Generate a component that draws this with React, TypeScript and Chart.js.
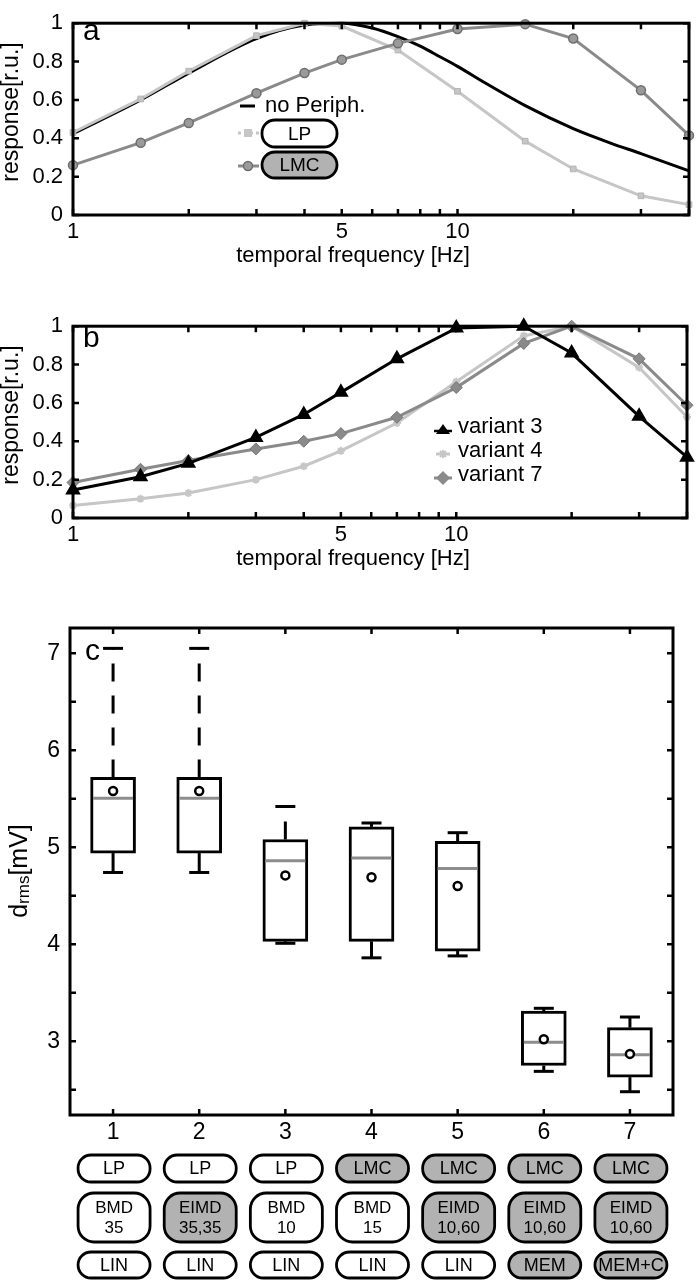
import React, { useEffect, useRef } from 'react';
import { Chart, registerables } from 'chart.js';
Chart.register(...registerables);

// ---------- data ----------
const FREQ = [1, 1.5, 2, 3, 4, 5, 7, 10, 15, 20, 30, 40];
const NO_PERIPH_FREQ = [1, 1.5, 2, 3, 4, 5, 6, 7, 8, 9, 10, 12, 15, 20, 25, 30, 40];
const NO_PERIPH = [0.424, 0.6, 0.74, 0.92, 0.99, 1.0, 0.975, 0.93, 0.88, 0.825, 0.775, 0.68, 0.57, 0.45, 0.375, 0.32, 0.23];
const LP = [0.43, 0.605, 0.75, 0.935, 1.0, 0.985, 0.86, 0.645, 0.385, 0.24, 0.1, 0.054];
const LMC = [0.26, 0.377, 0.48, 0.635, 0.74, 0.81, 0.895, 0.97, 0.995, 0.92, 0.65, 0.415];
const VARIANT3 = [0.146, 0.215, 0.285, 0.42, 0.54, 0.655, 0.83, 0.99, 1.0, 0.86, 0.53, 0.317];
const VARIANT4 = [0.065, 0.1, 0.13, 0.2, 0.27, 0.35, 0.495, 0.71, 0.95, 1.0, 0.785, 0.527];
const VARIANT7 = [0.185, 0.254, 0.3, 0.36, 0.4, 0.44, 0.525, 0.68, 0.91, 1.0, 0.83, 0.588];
const FREQ_TICKS = [1, 2, 3, 4, 5, 6, 7, 8, 9, 10, 20, 30, 40];
const FREQ_LABELED = [1, 5, 10];
const RESP_TICKS = [0, 0.2, 0.4, 0.6, 0.8, 1];

const VARIANTS = ['1', '2', '3', '4', '5', '6', '7'];
const Q1 = [4.94, 4.94, 4.03, 4.03, 3.93, 2.75, 2.63];
const Q3 = [5.72, 5.72, 5.08, 5.21, 5.06, 3.31, 3.14];
const MEDIAN = [5.505, 5.505, 4.86, 4.89, 4.78, 2.99, 2.86];
const MEAN = [5.58, 5.58, 4.71, 4.69, 4.6, 3.02, 2.87];
const WHISKER_LOW = [4.74, 4.74, 4.01, 3.86, 3.88, 2.69, 2.48];
const WHISKER_HIGH = [7.05, 7.05, 5.42, 5.25, 5.15, 3.34, 3.25];
const DRMS_TICKS = [2.5, 3, 3.5, 4, 4.5, 5, 5.5, 6, 6.5, 7];
const DRMS_LABELED = [3, 4, 5, 6, 7];
const PERIPHERY = ['LP', 'LP', 'LP', 'LMC', 'LMC', 'LMC', 'LMC'];
const PERIPHERY_ON = [false, false, false, true, true, true, true];
const DETECTOR = [['BMD', '35'], ['EIMD', '35,35'], ['BMD', '10'], ['BMD', '15'], ['EIMD', '10,60'], ['EIMD', '10,60'], ['EIMD', '10,60']];
const DETECTOR_ON = [false, true, false, false, true, true, true];
const OUTPUT = ['LIN', 'LIN', 'LIN', 'LIN', 'LIN', 'MEM', 'MEM+C'];
const OUTPUT_ON = [false, false, false, false, false, true, true];

// ---------- styles ----------
const FONT = '"Liberation Sans", Arial, Helvetica, sans-serif';
const LIGHT = '#c6c6c6';
const MID = '#8a8a8a';
const PILL_FILL = '#b2b2b2';
const W = 696;
const H_AB = 275;
const H_C = 680;

function drawPill(ctx: any, x: number, y: number, w: number, h: number, r: number, filled: boolean, lines: string[], fs: number) {
  ctx.save();
  ctx.beginPath();
  ctx.roundRect(x, y, w, h, r);
  ctx.fillStyle = filled ? PILL_FILL : '#ffffff';
  ctx.fill();
  ctx.lineWidth = 2.8;
  ctx.strokeStyle = '#000';
  ctx.stroke();
  ctx.fillStyle = '#000';
  ctx.font = `${fs}px ${FONT}`;
  ctx.textAlign = 'center';
  ctx.textBaseline = 'middle';
  const lh = fs * 1.15;
  lines.forEach((t, i) => ctx.fillText(t, x + w / 2, y + h / 2 + (i - (lines.length - 1) / 2) * lh + 1));
  ctx.restore();
}

const framePlugin = {
  id: 'frameTicks',
  afterDatasetsDraw(chart: any) {
    const { ctx, chartArea: a, scales } = chart;
    const xs = scales.x, ys = scales.y;
    const len = 6;
    ctx.save();
    ctx.strokeStyle = '#000';
    ctx.lineWidth = 2.5;
    ctx.beginPath();
    xs.ticks.forEach((_: any, i: number) => {
      const px = xs.getPixelForTick(i);
      ctx.moveTo(px, a.bottom); ctx.lineTo(px, a.bottom - len);
      ctx.moveTo(px, a.top); ctx.lineTo(px, a.top + len);
    });
    ys.ticks.forEach((_: any, i: number) => {
      const py = ys.getPixelForTick(i);
      ctx.moveTo(a.left, py); ctx.lineTo(a.left + len, py);
      ctx.moveTo(a.right, py); ctx.lineTo(a.right - len, py);
    });
    ctx.stroke();
    ctx.lineWidth = 3;
    ctx.strokeRect(a.left, a.top, a.right - a.left, a.bottom - a.top);
    ctx.restore();
  },
};

function drawText(ctx: any, text: string, x: number, y: number, size: number, align = 'left', rot = 0) {
  ctx.save();
  ctx.translate(x, y);
  if (rot) ctx.rotate(rot);
  ctx.fillStyle = '#000';
  ctx.font = `${size}px ${FONT}`;
  ctx.textAlign = align;
  ctx.textBaseline = 'middle';
  ctx.fillText(text, 0, 0);
  ctx.restore();
}

function responseTitles(letter: string, letterBaseline: number) {
  return (ctx: any) => {
    ctx.save();
    ctx.fillStyle = '#000';
    ctx.font = `30px ${FONT}`;
    ctx.textAlign = 'left';
    ctx.textBaseline = 'alphabetic';
    ctx.fillText(letter, 83, letterBaseline);
    ctx.restore();
    drawText(ctx, 'temporal frequency [Hz]', 353, 256, 22, 'center');
    drawText(ctx, 'response[r.u.]', 12, 112, 23, 'center', -Math.PI / 2);
  };
}

const freqScale = {
  type: 'logarithmic',
  min: 1,
  max: 40,
  afterBuildTicks: (s: any) => { s.ticks = FREQ_TICKS.map((v) => ({ value: v })); },
  afterFit: (s: any) => { s.height = H_AB - 215; },
  grid: { display: false, drawTicks: false },
  border: { display: false },
  ticks: {
    autoSkip: false, maxRotation: 0, minRotation: 0, padding: 4, color: '#000',
    font: { family: FONT, size: 22 },
    callback: (v: any) => (FREQ_LABELED.includes(Number(v)) ? String(v) : ''),
  },
};
const respScale = {
  type: 'linear',
  min: 0,
  max: 1,
  afterBuildTicks: (s: any) => { s.ticks = RESP_TICKS.map((v) => ({ value: v })); },
  afterFit: (s: any) => { s.width = 73; },
  grid: { display: false, drawTicks: false },
  border: { display: false },
  ticks: {
    padding: 10, color: '#000', font: { family: FONT, size: 22 },
    callback: (v: any) => String(Number(Number(v).toFixed(1))),
  },
};

function makeA() {
  const textPlugin = {
    id: 'textA',
    afterDraw(chart: any) {
      const ctx = chart.ctx;
      responseTitles('a', 40)(ctx);
      // legend
      ctx.save();
      ctx.strokeStyle = '#000'; ctx.lineWidth = 3;
      ctx.beginPath(); ctx.moveTo(240, 106); ctx.lineTo(255, 106); ctx.stroke();
      ctx.restore();
      drawText(ctx, 'no Periph.', 265, 106, 22, 'left');
      ctx.save();
      ctx.strokeStyle = LIGHT; ctx.lineWidth = 3; ctx.setLineDash([3, 3]);
      ctx.beginPath(); ctx.moveTo(238, 133); ctx.lineTo(259, 133); ctx.stroke();
      ctx.setLineDash([]);
      ctx.fillStyle = LIGHT; ctx.fillRect(244, 129, 8, 8);
      ctx.strokeStyle = MID; ctx.lineWidth = 3;
      ctx.beginPath(); ctx.moveTo(238, 166); ctx.lineTo(259, 166); ctx.stroke();
      ctx.fillStyle = '#9a9a9a'; ctx.strokeStyle = '#6e6e6e'; ctx.lineWidth = 1.5;
      ctx.beginPath(); ctx.arc(248, 166, 4.5, 0, Math.PI * 2); ctx.fill(); ctx.stroke();
      ctx.restore();
      drawPill(ctx, 262, 120, 75, 27, 13, false, ['LP'], 19);
      drawPill(ctx, 262, 152, 75, 26, 13, true, ['LMC'], 19);
    },
  };
  return {
    type: 'line',
    data: {
      datasets: [
        { label: 'no Periph.', data: NO_PERIPH_FREQ.map((f, i) => ({ x: f, y: NO_PERIPH[i] })), borderColor: '#000', borderWidth: 3, pointRadius: 0, cubicInterpolationMode: 'monotone', order: 3, clip: false },
        { label: 'LP', data: FREQ.map((f, i) => ({ x: f, y: LP[i] })), borderColor: LIGHT, borderWidth: 3, pointStyle: 'rect', pointRadius: 4, pointBackgroundColor: LIGHT, pointBorderColor: '#b4b4b4', pointBorderWidth: 1, order: 2, clip: false },
        { label: 'LMC', data: FREQ.map((f, i) => ({ x: f, y: LMC[i] })), borderColor: MID, borderWidth: 3, pointStyle: 'circle', pointRadius: 4.5, pointBackgroundColor: '#9a9a9a', pointBorderColor: '#6e6e6e', pointBorderWidth: 1.5, order: 1, clip: false },
      ],
    },
    options: {
      responsive: false, animation: false,
      layout: { padding: { top: 10, right: 7, left: 0, bottom: 0 } },
      plugins: { legend: { display: false }, tooltip: { enabled: false } },
      scales: { x: freqScale, y: respScale },
    },
    plugins: [framePlugin, textPlugin],
  };
}

function makeB() {
  const textPlugin = {
    id: 'textB',
    afterDraw(chart: any) {
      const ctx = chart.ctx;
      responseTitles('b', 44)(ctx);
      ctx.save();
      // variant 3
      ctx.strokeStyle = '#000'; ctx.lineWidth = 2.5;
      ctx.beginPath(); ctx.moveTo(434, 128); ctx.lineTo(452, 128); ctx.stroke();
      ctx.fillStyle = '#000';
      ctx.beginPath(); ctx.moveTo(443, 121); ctx.lineTo(450, 131); ctx.lineTo(436, 131); ctx.closePath(); ctx.fill();
      // variant 4
      ctx.strokeStyle = LIGHT; ctx.lineWidth = 3;
      ctx.beginPath(); ctx.moveTo(436, 151); ctx.lineTo(450, 151); ctx.stroke();
      ctx.lineWidth = 2;
      ctx.beginPath();
      ctx.moveTo(440, 148); ctx.lineTo(446, 154); ctx.moveTo(446, 148); ctx.lineTo(440, 154);
      ctx.moveTo(443, 147); ctx.lineTo(443, 155);
      ctx.stroke();
      // variant 7
      ctx.strokeStyle = MID; ctx.lineWidth = 3;
      ctx.beginPath(); ctx.moveTo(434, 175); ctx.lineTo(452, 175); ctx.stroke();
      ctx.fillStyle = MID;
      ctx.beginPath(); ctx.moveTo(443, 168); ctx.lineTo(450, 175); ctx.lineTo(443, 182); ctx.lineTo(436, 175); ctx.closePath(); ctx.fill();
      ctx.restore();
      drawText(ctx, 'variant 3', 458, 124, 22, 'left');
      drawText(ctx, 'variant 4', 458, 148, 22, 'left');
      drawText(ctx, 'variant 7', 458, 172, 22, 'left');
    },
  };
  return {
    type: 'line',
    data: {
      datasets: [
        { label: 'variant 3', data: FREQ.map((f, i) => ({ x: f, y: VARIANT3[i] })), borderColor: '#000', borderWidth: 3, pointStyle: 'triangle', pointRadius: 6, pointBackgroundColor: '#000', pointBorderColor: '#000', order: 1, clip: false },
        { label: 'variant 4', data: FREQ.map((f, i) => ({ x: f, y: VARIANT4[i] })), borderColor: LIGHT, borderWidth: 3, pointStyle: 'star', pointRadius: 4, pointBackgroundColor: LIGHT, pointBorderColor: LIGHT, pointBorderWidth: 2, order: 3, clip: false },
        { label: 'variant 7', data: FREQ.map((f, i) => ({ x: f, y: VARIANT7[i] })), borderColor: MID, borderWidth: 3, pointStyle: 'rectRot', pointRadius: 6, pointBackgroundColor: MID, pointBorderColor: '#767676', pointBorderWidth: 1, order: 2, clip: false },
      ],
    },
    options: {
      responsive: false, animation: false,
      layout: { padding: { top: 10, right: 7, left: 0, bottom: 0 } },
      plugins: { legend: { display: false }, tooltip: { enabled: false } },
      scales: { x: freqScale, y: respScale },
    },
    plugins: [framePlugin, textPlugin],
  };
}

function makeC() {
  const whiskerPlugin = {
    id: 'whiskers',
    beforeDatasetsDraw(chart: any) {
      const { ctx, scales } = chart;
      const xs = scales.x, ys = scales.y;
      ctx.save();
      ctx.strokeStyle = '#000';
      ctx.lineWidth = 3;
      ctx.setLineDash([18, 14]);
      VARIANTS.forEach((_, i) => {
        const px = xs.getPixelForTick(i);
        ctx.beginPath();
        ctx.moveTo(px, ys.getPixelForValue(Q3[i]));
        ctx.lineTo(px, ys.getPixelForValue(WHISKER_HIGH[i]));
        ctx.stroke();
        ctx.beginPath();
        ctx.moveTo(px, ys.getPixelForValue(Q1[i]));
        ctx.lineTo(px, ys.getPixelForValue(WHISKER_LOW[i]));
        ctx.stroke();
      });
      ctx.restore();
    },
  };
  const textPlugin = {
    id: 'textC',
    afterDraw(chart: any) {
      const { ctx, scales } = chart;
      ctx.save();
      ctx.fillStyle = '#000';
      ctx.font = `30px ${FONT}`;
      ctx.textBaseline = 'alphabetic';
      ctx.fillText('c', 85, 60);
      // y title with subscript
      ctx.translate(27, 271);
      ctx.rotate(-Math.PI / 2);
      ctx.font = `25px ${FONT}`;
      const wd = ctx.measureText('d').width;
      const wb = ctx.measureText('[mV]').width;
      ctx.font = `17px ${FONT}`;
      const wr = ctx.measureText('rms').width;
      let x0 = -(wd + wr + wb) / 2;
      ctx.font = `25px ${FONT}`;
      ctx.fillText('d', x0, 0); x0 += wd;
      ctx.font = `17px ${FONT}`;
      ctx.fillText('rms', x0, 2); x0 += wr;
      ctx.font = `25px ${FONT}`;
      ctx.fillText('[mV]', x0, 0);
      ctx.restore();
      const xs = scales.x;
      VARIANTS.forEach((_, i) => {
        const cx = xs.getPixelForTick(i) + 1;
        drawPill(ctx, cx - 36, 555, 72, 27, 13, PERIPHERY_ON[i], [PERIPHERY[i]], 18);
        drawPill(ctx, cx - 36, 593, 72, 49, 16, DETECTOR_ON[i], DETECTOR[i], 17);
        drawPill(ctx, cx - 36, 652, 72, 26, 13, OUTPUT_ON[i], [OUTPUT[i]], 18);
      });
    },
  };
  return {
    type: 'bar',
    data: {
      labels: VARIANTS,
      datasets: [
        { type: 'bar', label: 'box', data: Q1.map((q, i) => [q, Q3[i]]), backgroundColor: '#ffffff', borderColor: '#000', borderWidth: 3, borderSkipped: false, barThickness: 45, order: 5 },
        { type: 'line', label: 'upper', data: WHISKER_HIGH, showLine: false, pointStyle: 'line', pointRadius: 10, pointBorderWidth: 3, pointBorderColor: '#000', borderColor: '#000', order: 4, clip: false },
        { type: 'line', label: 'lower', data: WHISKER_LOW, showLine: false, pointStyle: 'line', pointRadius: 10, pointBorderWidth: 3, pointBorderColor: '#000', borderColor: '#000', order: 3, clip: false },
        { type: 'line', label: 'median', data: MEDIAN, showLine: false, pointStyle: 'line', pointRadius: 20, pointBorderWidth: 3, pointBorderColor: '#8c8c8c', borderColor: '#8c8c8c', order: 2, clip: false },
        { type: 'line', label: 'mean', data: MEAN, showLine: false, pointStyle: 'circle', pointRadius: 4, pointBorderWidth: 2.5, pointBorderColor: '#000', pointBackgroundColor: '#fff', order: 1, clip: false },
      ],
    },
    options: {
      responsive: false, animation: false,
      layout: { padding: { top: 28, right: 7, left: 0, bottom: 0 } },
      plugins: { legend: { display: false }, tooltip: { enabled: false } },
      scales: {
        x: {
          type: 'category',
          offset: true,
          afterFit: (s: any) => { s.height = H_C - 515; },
          grid: { display: false, drawTicks: false, offset: true },
          border: { display: false },
          ticks: { padding: 4, color: '#000', font: { family: FONT, size: 23 }, maxRotation: 0 },
        },
        y: {
          type: 'linear',
          min: 2.24,
          max: 7.26,
          afterBuildTicks: (s: any) => { s.ticks = DRMS_TICKS.map((v) => ({ value: v })); },
          afterFit: (s: any) => { s.width = 70; },
          grid: { display: false, drawTicks: false },
          border: { display: false },
          ticks: {
            padding: 10, color: '#000', font: { family: FONT, size: 23 },
            callback: (v: any) => (DRMS_LABELED.includes(Number(v)) ? String(v) : ''),
          },
        },
      },
    },
    plugins: [whiskerPlugin, framePlugin, textPlugin],
  };
}

function ChartCanvas({ top, height, make }: { top: number; height: number; make: () => any }) {
  const ref = useRef<HTMLCanvasElement>(null);
  useEffect(() => {
    const chart = new Chart(ref.current as HTMLCanvasElement, make());
    return () => chart.destroy();
  }, []);
  return (
    <canvas
      ref={ref}
      width={W}
      height={height}
      style={{ position: 'absolute', left: 0, top, width: W, height, display: 'block' }}
    />
  );
}

export default function App() {
  return (
    <div style={{ position: 'absolute', left: 0, top: 0, width: W, height: 1280, background: '#fff', overflow: 'hidden' }}>
      <ChartCanvas top={0} height={H_AB} make={makeA} />
      <ChartCanvas top={303} height={H_AB} make={makeB} />
      <ChartCanvas top={600} height={H_C} make={makeC} />
    </div>
  );
}
